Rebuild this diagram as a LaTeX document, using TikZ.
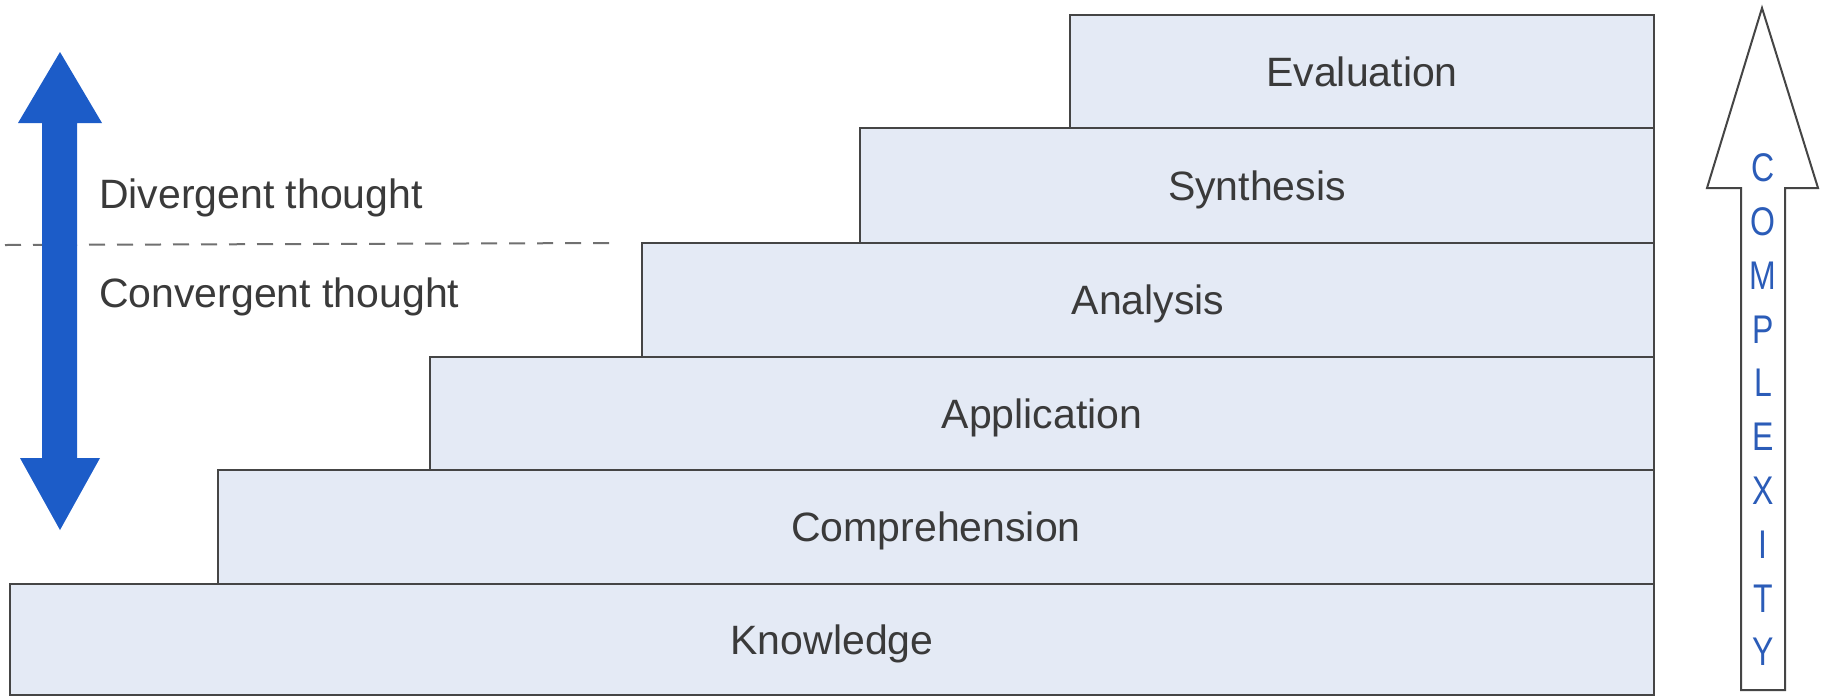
\documentclass[tikz,border=0pt]{standalone}
\usepackage{fontspec}
\setmainfont{Liberation Sans}
\usepackage{graphicx}
\definecolor{boxfill}{HTML}{E4EAF5}
\definecolor{boxline}{HTML}{454545}
\definecolor{txt}{HTML}{3A3A3A}
\definecolor{arrowblue}{HTML}{1C5CC8}
\definecolor{letterblue}{HTML}{2B5CB8}
\definecolor{dashgray}{HTML}{707070}
\begin{document}
\begin{tikzpicture}[x=1pt,y=-1pt,
  stepbox/.style={draw=boxline, fill=boxfill, line width=2.5pt, anchor=north west,
    inner sep=0pt, outer sep=0pt, text=txt, font=\fontsize{41}{48}\selectfont,
    text height=29pt, text depth=0pt},
  sidelabel/.style={anchor=base west, inner sep=0pt, text=txt, font=\fontsize{41}{48}\selectfont},
  cplx/.style={inner sep=0pt, text=letterblue, font=\fontsize{40}{44}\selectfont},
  divline/.style={draw=dashgray, line width=2pt, dash pattern=on 16pt off 12pt},
  bluearrow/.style={fill=arrowblue, draw=none},
  cplxarrow/.style={draw=boxline, line width=2pt, fill=white, line join=miter}
]
\useasboundingbox (0,0) rectangle (1827,697);
\fill[white] (0,0) rectangle (1827,697);

% steps (bottom to top)
\node[stepbox, minimum width=1644pt, minimum height=111pt] (knowledge) at (10,584) {Knowledge};
\node[stepbox, minimum width=1436pt, minimum height=114pt] (comprehension) at (218,470) {Comprehension};
\node[stepbox, minimum width=1224pt, minimum height=113pt] (application) at (430,357) {Application};
\node[stepbox, minimum width=1012pt, minimum height=114pt] (analysis) at (642,243) {Analysis};
\node[stepbox, minimum width=794pt, minimum height=115pt] (synthesis) at (860,128) {Synthesis};
\node[stepbox, minimum width=584pt, minimum height=113pt] (evaluation) at (1070,15) {Evaluation};

% divergent / convergent
\coordinate (dashstart) at (5,245);
\draw[divline] (dashstart) -- (analysis.north west -| 617,0);
\node[sidelabel] (divergent) at (99,208) {Divergent thought};
\node[sidelabel] (convergent) at (99,307) {Convergent thought};

% blue double arrow
\path[bluearrow] (60,52) -- (102,123) -- (77,123) -- (77,458) -- (100,458) -- (60,530)
  -- (20,458) -- (42,458) -- (42,123) -- (18,123) -- cycle;

% complexity arrow
\path[cplxarrow] (1762,8) -- (1818,188) -- (1785,188) -- (1785,690) -- (1741,690)
  -- (1741,188) -- (1707,188) -- cycle;
\foreach \l [count=\i from 0] in {C,O,M,P,L,E,X,I,T,Y}
  \node[cplx] (cplx\i) at (1763,{168+53.8*\i}) {\scalebox{0.8}[1]{\l}};
\end{tikzpicture}
\end{document}
